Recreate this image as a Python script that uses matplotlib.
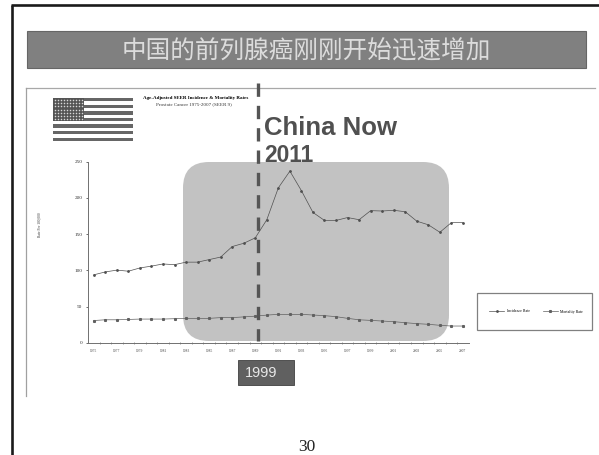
import numpy as np
import matplotlib
matplotlib.use('Agg')
import matplotlib.pyplot as plt
from matplotlib.patches import Rectangle, FancyBboxPatch

W, H = 599, 455

title = '中国的前列腺癌刚刚开始迅速增加'
years = list(range(1975, 2008))
incidence = [94, 98, 100.5, 99, 103.5, 106, 109, 108, 111.5, 111.5, 115,
             118.5, 133, 137.5, 145, 170, 214, 237, 210, 180, 169, 169,
             173, 170, 182.5, 182, 183, 181, 168, 163, 152.7, 166, 166]
mortality = [31, 32, 32, 32.5, 33, 33, 33, 33.5, 34, 34, 34, 35, 35, 36, 37,
             38.5, 39.5, 39.5, 39.5, 38.6, 37.7, 36.3, 34, 32, 31.2, 30.3,
             29.4, 28, 26.7, 25.8, 24.4, 23.4, 23.4]
y_ticks = [0, 50, 100, 150, 200, 250]


def pixel_axes(fig, zorder):
    # full-figure axes measured in pixels, origin at the top left
    ax = fig.add_axes([0, 0, 1, 1], zorder=zorder)
    ax.set_xlim(0, W)
    ax.set_ylim(H, 0)
    ax.axis('off')
    ax.patch.set_alpha(0)
    return ax


def draw_flag(ax):
    x0, y0, w, h = 53, 98, 80, 43
    stripe = h / 13
    for i in range(13):
        color = '#666666' if i % 2 == 0 else '#ffffff'
        ax.add_patch(Rectangle((x0, y0 + i * stripe), w, stripe, fc=color, lw=0))
    ax.add_patch(Rectangle((x0, y0), 31, stripe * 7, fc='#555555', lw=0))
    sx, sy = np.meshgrid(np.linspace(x0 + 2, x0 + 29, 10),
                         np.linspace(y0 + 2, y0 + stripe * 7 - 2, 7))
    ax.scatter(sx.ravel(), sy.ravel(), s=1.2, c='#d8d8d8', lw=0)


fig = plt.figure(figsize=(W / 100, H / 100), dpi=100, facecolor='white')

bg = pixel_axes(fig, 0)
# slide frame
bg.plot([12, 12], [H, 5], color='#1a1a1a', lw=1.9, solid_capstyle='butt')
bg.plot([11.3, W], [5, 5], color='#1a1a1a', lw=1.9, solid_capstyle='butt')
# title bar
bg.add_patch(Rectangle((27, 31), 559, 37, fc='#808080', ec='#666666', lw=0.8))
bg.text(306.5, 52, title, color='#dcdcdc', fontsize=17.7, ha='center', va='center',
        family=['Noto Sans CJK SC', 'DejaVu Sans'], fontweight='light')
# chart container edges
bg.plot([26, 595], [88, 88], color='#a8a8a8', lw=0.9)
bg.plot([26, 26], [88, 396], color='#a0a0a0', lw=0.9)
draw_flag(bg)
bg.text(195.5, 98, 'Age-Adjusted SEER Incidence & Mortality Rates', fontsize=3.6,
        family='Liberation Serif', fontweight='bold', ha='center', va='center')
bg.text(194, 104, 'Prostate Cancer 1975-2007 (SEER 9)', fontsize=3.6,
        family='Liberation Serif', color='#333333', ha='center', va='center')
# highlighted region behind the curves
bg.add_patch(FancyBboxPatch((183, 162), 266, 179, boxstyle='round,pad=0,rounding_size=26',
                            fc='#c2c2c2', ec='none'))
# legend frame
bg.add_patch(Rectangle((476.5, 293), 115.5, 37, fc='white', ec='#808080', lw=0.9))
bg.text(39.5, 225, 'Rate Per 100,000', fontsize=2.6, rotation=90, family='Liberation Serif',
        ha='center', va='center', color='#333333')

ax = fig.add_axes([88 / W, 1 - 343 / H, (468.7 - 88) / W, (343 - 161.7) / H], zorder=1)
ax.patch.set_alpha(0)
x = np.arange(len(years))
ax.plot(x, incidence, color='#505050', lw=0.5, marker='o', ms=1.0, label='Incidence Rate')
ax.plot(x, mortality, color='#606060', lw=0.5, marker='s', ms=1.2, label='Mortality Rate')
ax.set_xlim(-0.5, len(years) - 0.5)
ax.set_ylim(0, 250)
ax.set_yticks(y_ticks)
ax.set_xticks(x[::2])
ax.set_xticklabels(years[::2])
ax.set_xticks(x[:-1] + 0.5, minor=True)
ax.tick_params(axis='y', labelsize=3.8, length=1.5, width=0.5, pad=2.5, colors='#333333')
ax.tick_params(axis='x', labelsize=2.6, length=0, pad=4.5, colors='#444444')
ax.tick_params(axis='x', which='minor', length=1.2, width=0.4, color='#555555', direction='inout')
for name in ('top', 'right'):
    ax.spines[name].set_visible(False)
for name in ('left', 'bottom'):
    ax.spines[name].set_linewidth(0.7)
    ax.spines[name].set_color('#707070')
for label in ax.get_xticklabels() + ax.get_yticklabels():
    label.set_family('Liberation Serif')
ax.legend(loc='center', bbox_to_anchor=(536 / W, 1 - 311.5 / H), bbox_transform=fig.transFigure,
          ncol=2, frameon=False, prop={'family': 'Liberation Serif', 'size': 2.8},
          handlelength=3.9, columnspacing=3.3, handletextpad=0.6)

top = pixel_axes(fig, 2)
top.plot([258.3, 258.3], [83, 341], color='#555555', lw=2.4, dashes=(4, 2.7))
top.text(264.5, 128, 'China Now', fontsize=18.5, fontweight='bold', color='#505050',
         family='Liberation Sans', ha='left', va='center')
top.text(264.5, 156, '2011', fontsize=16.4, fontweight='bold', color='#505050',
         family='Liberation Sans', ha='left', va='center')
top.add_patch(Rectangle((237.5, 360), 56, 25, fc='#606060', ec='#505050', lw=0.7))
top.text(261.5, 373, '1999', fontsize=10.5, color='#e8e8e8', family='Liberation Sans',
         ha='center', va='center')
top.text(306.5, 447, '30', fontsize=12.5, color='#222222', family='Liberation Serif',
         ha='center', va='center')

fig.savefig('out.png', dpi=100)
